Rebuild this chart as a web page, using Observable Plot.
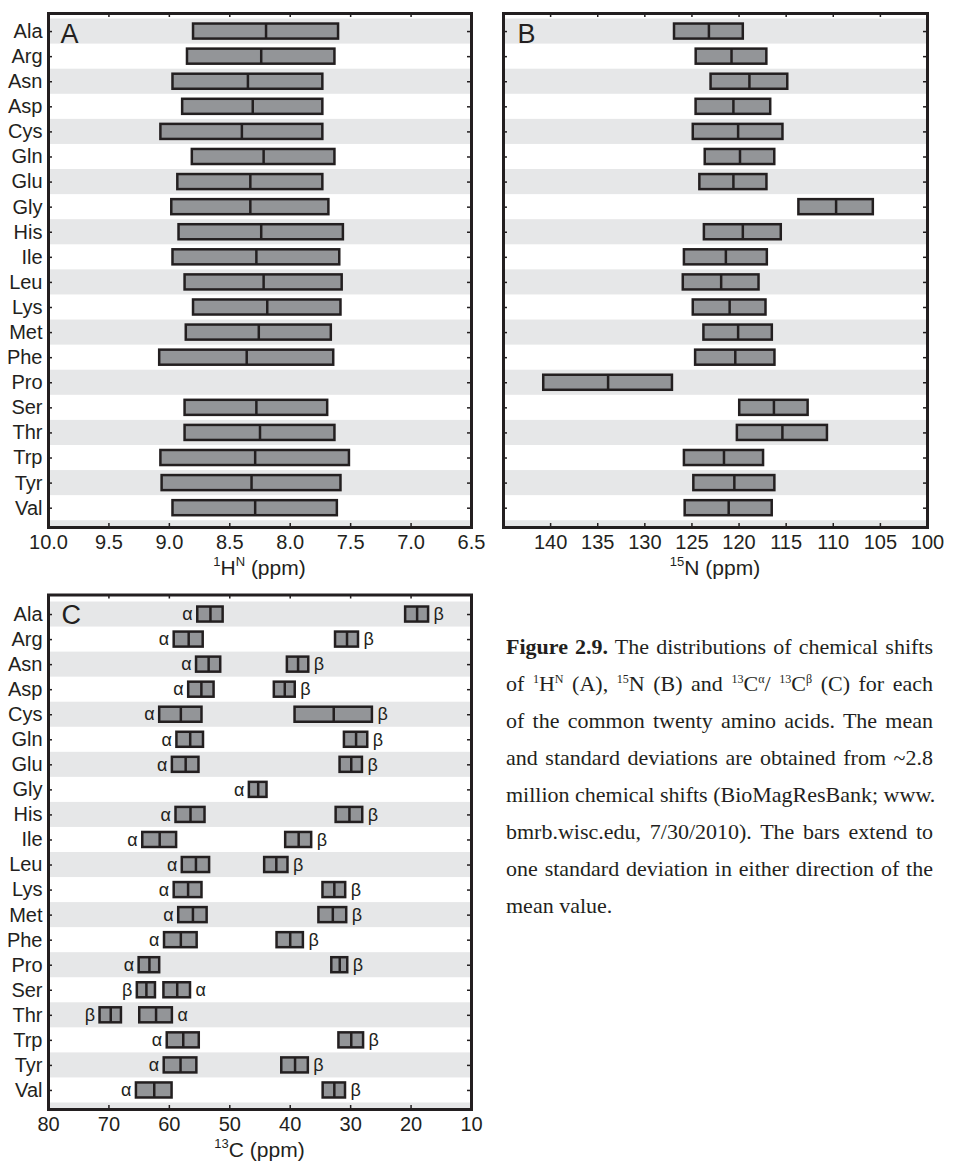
<!DOCTYPE html>
<html>
<head>
<meta charset="utf-8">
<script src="https://cdn.jsdelivr.net/npm/d3@7"></script>
<script src="https://cdn.jsdelivr.net/npm/@observablehq/plot@0.6"></script>
<style>
  body { margin: 0; background: #fff; }
  #root { position: relative; width: 953px; height: 1162px; overflow: hidden; font-family: "Liberation Sans", Arial, sans-serif; color: #231f20; }
  #caption { position: absolute; left: 506px; top: 628px; width: 427px; font-family: "Liberation Serif", "Times New Roman", serif; font-size: 22px; line-height: 37px; color: #231f20; }
  #caption .ln { text-align: justify; text-align-last: justify; white-space: nowrap; }
  #caption .last { text-align: left; text-align-last: left; }
  #caption sup { font-size: 0.55em; vertical-align: baseline; position: relative; top: -0.7em; line-height: 0; }
</style>
</head>
<body>
<div id="root">
  <div id="caption">
    <div class="ln"><b>Figure 2.9.</b> The distributions of chemical shifts</div>
    <div class="ln">of <sup>1</sup>H<sup>N</sup> (A), <sup>15</sup>N (B) and <sup>13</sup>C<sup>α</sup>/ <sup>13</sup>C<sup>β</sup> (C) for each</div>
    <div class="ln">of the common twenty amino acids. The mean</div>
    <div class="ln">and standard deviations are obtained from ~2.8</div>
    <div class="ln">million chemical shifts (BioMagResBank; www.</div>
    <div class="ln">bmrb.wisc.edu, 7/30/2010). The bars extend to</div>
    <div class="ln">one standard deviation in either direction of the</div>
    <div class="ln last">mean value.</div>
  </div>
</div>
<script>
// ---------------- data ----------------
const residues = ["Ala","Arg","Asn","Asp","Cys","Gln","Glu","Gly","His","Ile","Leu","Lys","Met","Phe","Pro","Ser","Thr","Trp","Tyr","Val"];

// Panel A: 1H^N (ppm) mean and standard deviation (Pro has no amide proton)
const hnMean = [8.20,8.24,8.35,8.31,8.40,8.22,8.33,8.33,8.24,8.28,8.22,8.19,8.26,8.36,null,8.28,8.25,8.29,8.32,8.29];
const hnSd   = [0.60,0.61,0.62,0.58,0.67,0.59,0.60,0.65,0.68,0.69,0.65,0.61,0.60,0.72,null,0.59,0.62,0.78,0.74,0.68];

// Panel B: 15N (ppm)
const nMean = [123.2,120.8,118.9,120.6,120.1,119.9,120.6,109.7,119.6,121.4,121.9,121.0,120.1,120.4,133.9,116.3,115.4,121.6,120.5,121.1];
const nSd   = [3.65,3.75,4.07,3.96,4.76,3.69,3.56,3.95,4.08,4.40,4.02,3.86,3.63,4.21,6.83,3.63,4.78,4.20,4.30,4.62];

// Panel C: 13C alpha and 13C beta (ppm) (Gly has no beta carbon)
const caMean = [53.2,56.8,53.5,54.7,58.1,56.55,57.3,45.3,56.5,61.6,55.6,56.9,56.1,58.1,63.3,58.7,62.2,57.7,58.15,62.5];
const caSd   = [2.10,2.40,2.00,2.10,3.50,2.20,2.20,1.46,2.40,2.80,2.26,2.30,2.35,2.70,1.70,2.20,2.70,2.65,2.70,2.95];
const cbMean = [19.0,30.6,38.7,40.9,32.8,29.1,29.9,null,30.2,38.6,42.3,32.7,32.95,40.0,31.8,63.8,69.7,29.9,39.2,32.7];
const cbSd   = [1.90,1.90,1.77,1.73,6.40,1.93,1.85,null,2.20,2.15,1.93,1.88,2.30,2.18,1.32,1.50,1.77,2.04,2.20,1.85];

// tick values
const hTicks = [10.0,9.5,9.0,8.5,8.0,7.5,7.0,6.5];
const nTicks = [140,135,130,125,120,115,110,105,100];
const cTicks = [80,70,60,50,40,30,20,10];

// ---------------- helpers ----------------
const INK = "#231f20", BAR = "#939598", BAND = "#e6e7e8";
const rowIdx = d3.range(residues.length);
const bandIdx = d3.range(0, residues.length + 1, 2);
const TICK = 4;

function seriesOf(means, sds) {
  return rowIdx.filter(i => means[i] != null).map(i => ({i, mean: means[i], sd: sds[i]}));
}

function barMarks(s) {
  return [
    Plot.rect(s, {x1: d => d.mean + d.sd, x2: d => d.mean - d.sd, y1: d => d.i - 0.3, y2: d => d.i + 0.3,
      fill: BAR, stroke: INK, strokeWidth: 2.5}),
    Plot.ruleX(s, {x: "mean", y1: d => d.i - 0.3, y2: d => d.i + 0.3, stroke: INK, strokeWidth: 2.5})
  ];
}

function buildPanel(o) {
  const fw = o.width - o.ml - o.mr;   // frame width in px
  const fh = o.height - o.mt - o.mb;  // frame height in px
  const marks = [
    Plot.rect(bandIdx, {x1: o.xDomain[0], x2: o.xDomain[1], y1: i => i - 0.5, y2: i => i + 0.5, fill: BAND, clip: true}),
    ...o.series.flatMap(barMarks),
    ...(o.extra || []),
    // inward tick marks on all four sides
    Plot.tickY(rowIdx, {y: d => d, insetRight: fw - TICK, stroke: INK, strokeWidth: 1.5}),
    Plot.tickY(rowIdx, {y: d => d, insetLeft: fw - TICK, stroke: INK, strokeWidth: 1.5}),
    Plot.tickX(o.xTicks, {x: d => d, insetBottom: fh - TICK, stroke: INK, strokeWidth: 1.5}),
    Plot.tickX(o.xTicks, {x: d => d, insetTop: fh - TICK, stroke: INK, strokeWidth: 1.5}),
    Plot.frame({stroke: INK, strokeWidth: 3}),
    // tick labels
    Plot.axisX(o.xTicks, {anchor: "bottom", tickSize: 0, tickPadding: 7, tickFormat: o.xFormat, label: null, fontSize: 20}),
    Plot.text([o.letter], {text: d => d, frameAnchor: "top-left", dx: o.letterDx, dy: 10, lineAnchor: "top", textAnchor: "start", fontSize: 27, fill: INK})
  ];
  if (o.yLabels) {
    marks.push(Plot.axisY(rowIdx, {anchor: "left", tickSize: 0, tickPadding: 6, tickFormat: i => residues[i], label: null, fontSize: 20}));
  } else {
    marks.push(Plot.axisY(rowIdx, {anchor: "left", tickSize: 0, tickFormat: () => "", label: null}));
  }
  const svg = Plot.plot({
    width: o.width, height: o.height,
    marginTop: o.mt, marginBottom: o.mb, marginLeft: o.ml, marginRight: o.mr,
    style: {background: "transparent", fontFamily: "'Liberation Sans', Arial, sans-serif", color: INK, overflow: "visible"},
    x: {domain: o.xDomain},
    y: {domain: o.yDomain},
    marks
  });
  svg.style.position = "absolute";
  svg.style.left = o.left + "px";
  svg.style.top = o.top + "px";
  // axis title with superscripts
  const cx = o.ml + fw / 2;
  const t = d3.select(svg).append("text")
    .attr("x", cx).attr("y", o.height - o.mb + 48)
    .attr("text-anchor", "middle").attr("fill", INK)
    .attr("font-family", "'Liberation Sans', Arial, sans-serif").attr("font-size", 21);
  o.title.forEach(([str, sup], k) => {
    const ts = t.append("tspan").text(str);
    if (sup) ts.attr("font-size", 13).attr("dy", -9);
    else ts.attr("dy", k === 0 ? 0 : 9);
  });
  document.getElementById("root").appendChild(svg);
}

// ---------------- panel A ----------------
buildPanel({
  left: 0, top: 0, width: 480, height: 580, mt: 13, mb: 53, ml: 48, mr: 9,
  xDomain: [10, 6.5], xTicks: hTicks, xFormat: d3.format(".1f"),
  yDomain: [19.77, -0.72], yLabels: true, letter: "A", letterDx: 12,
  series: [seriesOf(hnMean, hnSd)],
  title: [["1", true], ["H", false], ["N", true], [" (ppm)", false]]
});

// ---------------- panel B ----------------
buildPanel({
  left: 480, top: 0, width: 473, height: 580, mt: 13, mb: 53, ml: 23, mr: 26,
  xDomain: [145, 100], xTicks: nTicks, xFormat: d3.format("d"),
  yDomain: [19.77, -0.72], yLabels: false, letter: "B", letterDx: 14,
  series: [seriesOf(nMean, nSd)],
  title: [["15", true], ["N (ppm)", false]]
});

// ---------------- panel C ----------------
const ca = seriesOf(caMean, caSd).map(d => ({...d, t: "α"}));
const cb = seriesOf(cbMean, cbSd).map(d => ({...d, t: "β"}));
const labLeft = [], labRight = [];
for (const i of rowIdx) {
  const bars = [...ca, ...cb].filter(d => d.i === i).sort((a, b) => b.mean - a.mean);
  labLeft.push({...bars[0], x: bars[0].mean + bars[0].sd});
  if (bars.length > 1) labRight.push({...bars[1], x: bars[1].mean - bars[1].sd});
}
buildPanel({
  left: 0, top: 580, width: 480, height: 582, mt: 14.5, mb: 53, ml: 48, mr: 9,
  xDomain: [80, 10], xTicks: cTicks, xFormat: d3.format("d"),
  yDomain: [19.76, -0.78], yLabels: true, letter: "C", letterDx: 13,
  series: [ca, cb],
  extra: [
    Plot.text(labLeft, {x: "x", y: "i", text: "t", textAnchor: "end", dx: -5, fontSize: 18, fill: INK}),
    Plot.text(labRight, {x: "x", y: "i", text: "t", textAnchor: "start", dx: 5, fontSize: 18, fill: INK})
  ],
  title: [["13", true], ["C (ppm)", false]]
});
</script>
</body>
</html>
